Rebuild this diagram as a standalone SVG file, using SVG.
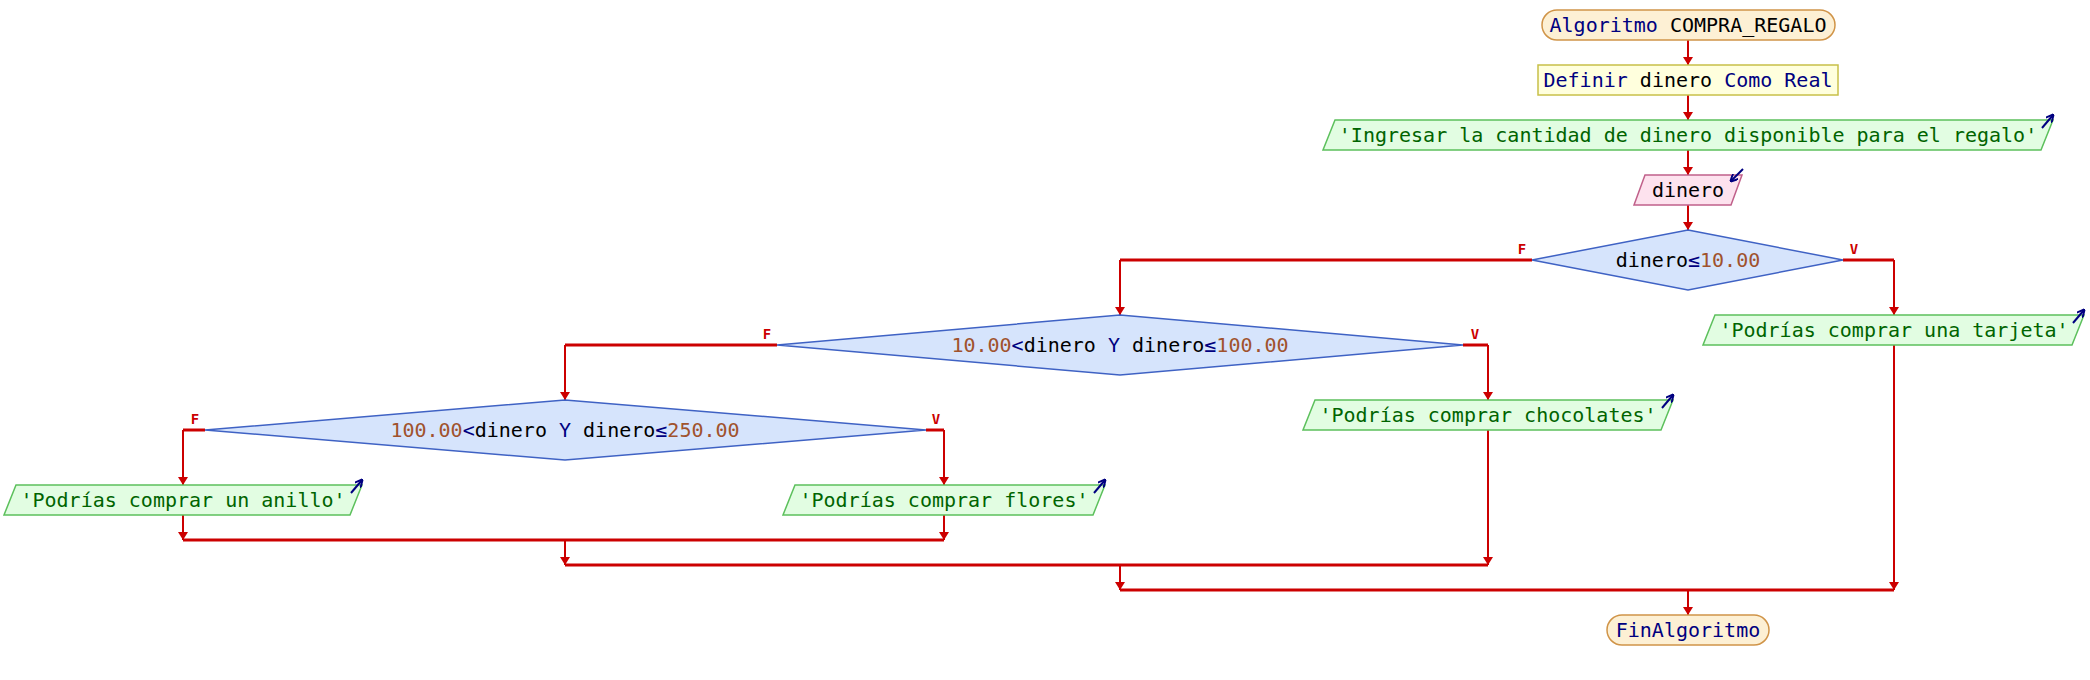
<svg xmlns="http://www.w3.org/2000/svg" width="2090" height="680" viewBox="0 0 2090 680">
<style>
text{font-family:"DejaVu Sans Mono","Liberation Mono",monospace;font-size:20px;}
.c{text-anchor:middle;}
.kw{fill:#000080;}
.id{fill:#000000;}
.num{fill:#a0522d;}
.str{fill:#006400;}
.term{fill:#fdf0d4;stroke:#d09448;stroke-width:1.5;}
.proc{fill:#ffffdd;stroke:#c8c048;stroke-width:1.5;}
.out{fill:#e2fde2;stroke:#5cc05c;stroke-width:1.5;}
.in{fill:#fde2ee;stroke:#c0608a;stroke-width:1.5;}
.dec{fill:#d6e4fc;stroke:#3f62c4;stroke-width:1.5;}
.ln{fill:none;stroke:#cc0000;stroke-width:2;}
.thick{fill:none;stroke:#cc0000;stroke-width:3;}
.lbl{fill:#cc0000;font-size:14px;font-weight:bold;text-anchor:middle;}
.ico{fill:none;stroke:#000080;stroke-width:2;}
</style>
<defs>
<marker id="ah" viewBox="0 0 8 10" refX="8" refY="5" markerWidth="8" markerHeight="10" markerUnits="userSpaceOnUse" orient="auto">
<path d="M0,0 L8,5 L0,10 z" fill="#cc0000"/>
</marker>
<marker id="ih" viewBox="0 0 8 8" refX="7" refY="4" markerWidth="8" markerHeight="8" markerUnits="userSpaceOnUse" orient="auto">
<path d="M0,0 L8,4 L0,8" fill="none" stroke="#000080" stroke-width="2"/>
</marker>
</defs>

<g id="connectors">
<path class="ln" d="M1688,40 V65" marker-end="url(#ah)"/>
<path class="ln" d="M1688,95 V120" marker-end="url(#ah)"/>
<path class="ln" d="M1688,150 V175" marker-end="url(#ah)"/>
<path class="ln" d="M1688,205 V230" marker-end="url(#ah)"/>
<path class="thick" d="M1532,260 H1120"/>
<path class="ln" d="M1120,260 V315" marker-end="url(#ah)"/>
<path class="thick" d="M1843,260 H1894"/>
<path class="ln" d="M1894,260 V315" marker-end="url(#ah)"/>
<path class="thick" d="M777,345 H565"/>
<path class="ln" d="M565,345 V400" marker-end="url(#ah)"/>
<path class="thick" d="M1463,345 H1488"/>
<path class="ln" d="M1488,345 V400" marker-end="url(#ah)"/>
<path class="thick" d="M205,430 H183"/>
<path class="ln" d="M183,430 V485" marker-end="url(#ah)"/>
<path class="thick" d="M926,430 H944"/>
<path class="ln" d="M944,430 V485" marker-end="url(#ah)"/>
<path class="ln" d="M183,515 V540" marker-end="url(#ah)"/>
<path class="ln" d="M944,515 V540" marker-end="url(#ah)"/>
<path class="thick" d="M183,540 H944"/>
<path class="ln" d="M565,540 V565" marker-end="url(#ah)"/>
<path class="ln" d="M1488,430 V565" marker-end="url(#ah)"/>
<path class="thick" d="M565,565 H1488"/>
<path class="ln" d="M1120,565 V590" marker-end="url(#ah)"/>
<path class="ln" d="M1894,345 V590" marker-end="url(#ah)"/>
<path class="thick" d="M1120,590 H1894"/>
<path class="ln" d="M1688,590 V615" marker-end="url(#ah)"/>
<text class="lbl" x="1522" y="254">F</text>
<text class="lbl" x="1854" y="254">V</text>
<text class="lbl" x="767" y="339">F</text>
<text class="lbl" x="1475" y="339">V</text>
<text class="lbl" x="195" y="424">F</text>
<text class="lbl" x="936" y="424">V</text>
</g>

<g id="start">
<rect class="term" x="1542" y="10" width="293" height="30" rx="15" ry="15"/>
<text class="c" x="1688" y="32"><tspan class="kw">Algoritmo</tspan><tspan class="id"> COMPRA_REGALO</tspan></text>
</g>

<g id="definir">
<rect class="proc" x="1538" y="65" width="300" height="30"/>
<text class="c" x="1688" y="87"><tspan class="kw">Definir</tspan><tspan class="id"> dinero </tspan><tspan class="kw">Como Real</tspan></text>
</g>

<g id="escribir1">
<polygon class="out" points="1335,120 2053,120 2041,150 1323,150"/>
<text class="c str" x="1688" y="142">'Ingresar la cantidad de dinero disponible para el regalo'</text>
<path class="ico" d="M2042,128 L2053,115" marker-end="url(#ih)"/>
</g>

<g id="leer">
<polygon class="in" points="1645,175 1742,175 1731,205 1634,205"/>
<text class="c id" x="1688" y="197">dinero</text>
<path class="ico" d="M1743,169 L1731,181" marker-end="url(#ih)"/>
</g>

<g id="si1">
<polygon class="dec" points="1688,230 1843,260 1688,290 1532,260"/>
<text class="c" x="1688" y="267"><tspan class="id">dinero</tspan><tspan class="kw">≤</tspan><tspan class="num">10.00</tspan></text>
</g>

<g id="tarjeta">
<polygon class="out" points="1715,315 2084,315 2072,345 1703,345"/>
<text class="c str" x="1894" y="337">'Podrías comprar una tarjeta'</text>
<path class="ico" d="M2073,323 L2084,310" marker-end="url(#ih)"/>
</g>

<g id="si2">
<polygon class="dec" points="1120,315 1463,345 1120,375 777,345"/>
<text class="c" x="1120" y="352"><tspan class="num">10.00</tspan><tspan class="kw">&lt;</tspan><tspan class="id">dinero </tspan><tspan class="kw">Y</tspan><tspan class="id"> dinero</tspan><tspan class="kw">≤</tspan><tspan class="num">100.00</tspan></text>
</g>

<g id="chocolates">
<polygon class="out" points="1315,400 1673,400 1661,430 1303,430"/>
<text class="c str" x="1488" y="422">'Podrías comprar chocolates'</text>
<path class="ico" d="M1662,408 L1673,395" marker-end="url(#ih)"/>
</g>

<g id="si3">
<polygon class="dec" points="565,400 926,430 565,460 205,430"/>
<text class="c" x="565" y="437"><tspan class="num">100.00</tspan><tspan class="kw">&lt;</tspan><tspan class="id">dinero </tspan><tspan class="kw">Y</tspan><tspan class="id"> dinero</tspan><tspan class="kw">≤</tspan><tspan class="num">250.00</tspan></text>
</g>

<g id="anillo">
<polygon class="out" points="16,485 362,485 350,515 4,515"/>
<text class="c str" x="183" y="507">'Podrías comprar un anillo'</text>
<path class="ico" d="M351,493 L362,480" marker-end="url(#ih)"/>
</g>

<g id="flores">
<polygon class="out" points="795,485 1105,485 1093,515 783,515"/>
<text class="c str" x="944" y="507">'Podrías comprar flores'</text>
<path class="ico" d="M1094,493 L1105,480" marker-end="url(#ih)"/>
</g>

<g id="fin">
<rect class="term" x="1607" y="615" width="162" height="30" rx="15" ry="15"/>
<text class="c kw" x="1688" y="637">FinAlgoritmo</text>
</g>
</svg>
